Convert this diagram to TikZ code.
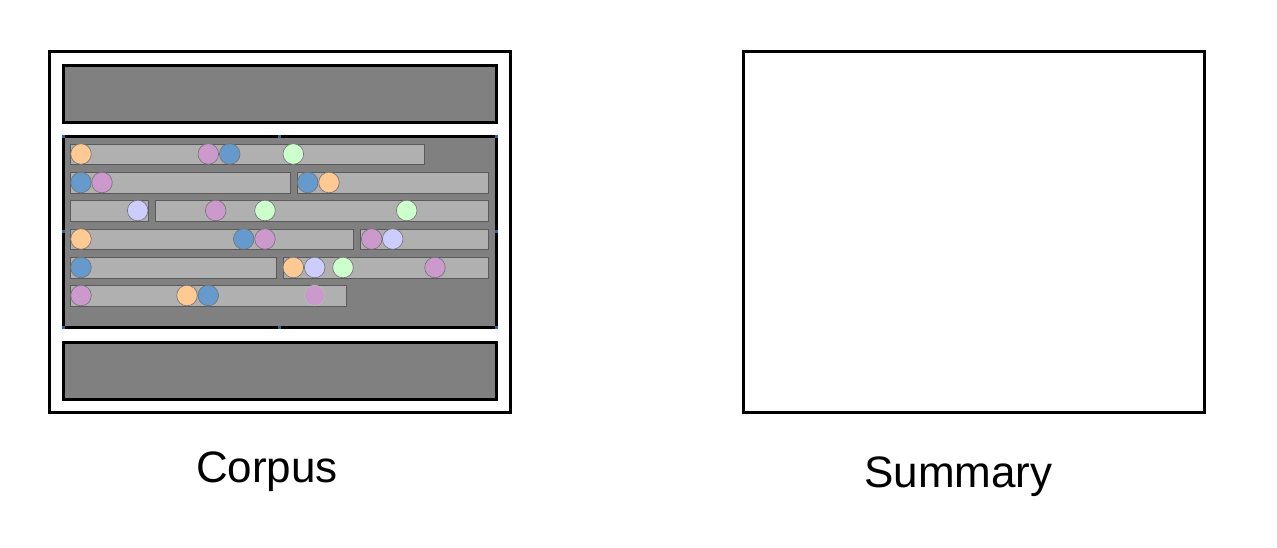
\documentclass[tikz,border=0pt]{standalone}
\usepackage{fontspec}
\setmainfont{Liberation Sans}
\definecolor{darkbox}{HTML}{808080}
\definecolor{bargray}{HTML}{B0B0B0}
\definecolor{barline}{HTML}{5A5A5A}
\definecolor{corange}{HTML}{FFC993}
\definecolor{cpurple}{HTML}{CC99CC}
\definecolor{cblue}{HTML}{6699CC}
\definecolor{cgreen}{HTML}{CCFFCC}
\definecolor{clav}{HTML}{CCCCFF}
\definecolor{handle}{HTML}{3A5F8F}
\tikzset{
  outerbox/.style={draw=black, line width=3pt, fill=white},
  darkpanel/.style={draw=black, line width=3pt, fill=darkbox},
  barbox/.style={draw=barline, line width=1pt, fill=bargray},
  dot/.style={circle, draw=black!55, line width=0.6pt, minimum size=20.6pt, inner sep=0pt},
  handlebox/.style={fill=handle, minimum size=3pt, inner sep=0pt},
  caption/.style={font=\fontsize{44}{50}\selectfont, anchor=base, inner sep=0pt}
}
\begin{document}
\begin{tikzpicture}[x=1pt,y=-1pt]
\useasboundingbox (0,0) rectangle (1277,547);
% corpus frame
\draw[outerbox] (49,51) rectangle (510,412);
\draw[darkpanel] (63,65) rectangle (496,122);
\draw[darkpanel] (63,136) rectangle (496,327);
\draw[darkpanel] (63,342) rectangle (496,399);
% bars
\draw[barbox] (70.7,144) rectangle (424.3,164);
\draw[barbox] (70.7,172) rectangle (290,193);
\draw[barbox] (297,172) rectangle (488.3,193);
\draw[barbox] (70.7,200) rectangle (148.3,221);
\draw[barbox] (155.3,200) rectangle (488.3,221);
\draw[barbox] (70.7,229) rectangle (353.7,249);
\draw[barbox] (360.7,229) rectangle (488.3,249);
\draw[barbox] (70.7,257) rectangle (276,278);
\draw[barbox] (283,257) rectangle (488.3,278);
\draw[barbox] (70.7,285) rectangle (346.3,306);
% row 1
\node[dot, fill=corange] (r1a) at (81,154) {};
\node[dot, fill=cpurple] (r1b) at (208.3,154) {};
\node[dot, fill=cblue] (r1c) at (229.7,154) {};
\node[dot, fill=cgreen] (r1d) at (293.3,154) {};
% row 2
\node[dot, fill=cblue] (r2a) at (81,182.5) {};
\node[dot, fill=cpurple] (r2b) at (102,182.5) {};
\node[dot, fill=cblue] (r2c) at (307.7,182.5) {};
\node[dot, fill=corange] (r2d) at (329,182.5) {};
% row 3
\node[dot, fill=clav] (r3a) at (137.7,210.5) {};
\node[dot, fill=cpurple] (r3b) at (215.7,210.5) {};
\node[dot, fill=cgreen] (r3c) at (265,210.5) {};
\node[dot, fill=cgreen] (r3d) at (406.7,210.5) {};
% row 4
\node[dot, fill=corange] (r4a) at (81,239) {};
\node[dot, fill=cblue] (r4b) at (243.7,239) {};
\node[dot, fill=cpurple] (r4c) at (265,239) {};
\node[dot, fill=cpurple] (r4d) at (371.7,239) {};
\node[dot, fill=clav] (r4e) at (392.7,239) {};
% row 5
\node[dot, fill=cblue] (r5a) at (81,267.5) {};
\node[dot, fill=corange] (r5b) at (293.3,267.5) {};
\node[dot, fill=clav] (r5c) at (314.7,267.5) {};
\node[dot, fill=cgreen] (r5d) at (343,267.5) {};
\node[dot, fill=cpurple] (r5e) at (435,267.5) {};
% row 6
\node[dot, fill=cpurple] (r6a) at (81,295.5) {};
\node[dot, fill=corange] (r6b) at (187,295.5) {};
\node[dot, fill=cblue] (r6c) at (208.3,295.5) {};
\node[dot, fill=cpurple, draw=cgreen!60!black!60] (r6d) at (314.7,295.5) {};
% selection handles
\node[handlebox] (h1) at (63,136) {};
\node[handlebox] (h2) at (279.5,136) {};
\node[handlebox] (h3) at (496,136) {};
\node[handlebox] (h4) at (63,231.5) {};
\node[handlebox] (h5) at (496,231.5) {};
\node[handlebox] (h6) at (63,327) {};
\node[handlebox] (h7) at (279.5,327) {};
\node[handlebox] (h8) at (496,327) {};
% summary frame
\draw[outerbox] (743,51) rectangle (1204,412);
% captions
\node[caption] (corpus) at (267,482) {Corpus};
\node[caption] (summary) at (958.5,487) {Summary};
\end{tikzpicture}
\end{document}
